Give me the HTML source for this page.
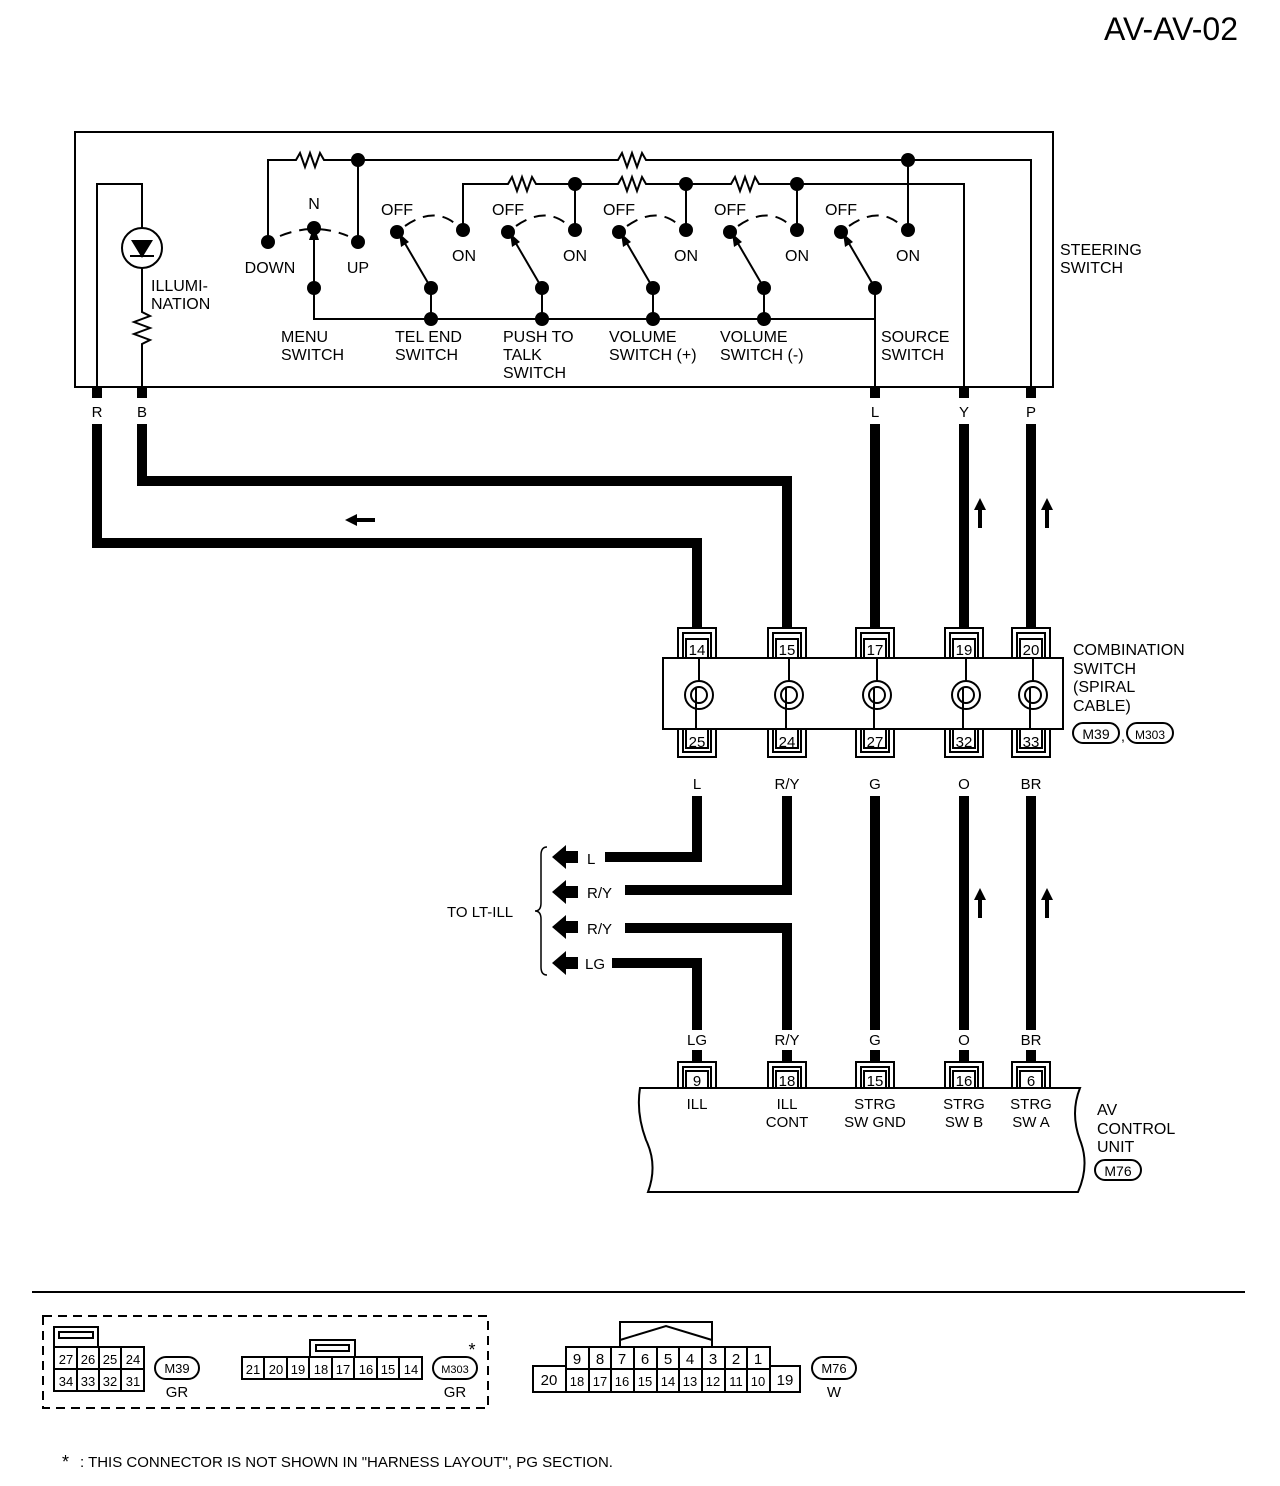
<!DOCTYPE html>
<html><head><style>html,body{margin:0;padding:0;background:#fff}svg{display:block}text{font-family:"Liberation Sans",sans-serif;fill:#000}</style></head><body>
<svg width="1280" height="1486" viewBox="0 0 1280 1486" xmlns="http://www.w3.org/2000/svg">
<defs>
<g id="dot"><circle r="7" fill="#000"/></g>
</defs>
<text x="1238" y="40" font-size="32" text-anchor="end">AV-AV-02</text>
<rect x="75" y="132" width="978" height="255" fill="none" stroke="#000" stroke-width="2"/>
<g fill="none" stroke="#000" stroke-width="2">
<path d="M97 387 V184 H142 V228 M142 268 V312 l8 4 l-16 6 l16 6 l-16 6 l16 6 l-8 4 V387"/>
<circle cx="142" cy="248" r="20"/>
<path d="M130 256 H154"/>
<path d="M268 240 V160 H296 l4 -7 l5 14 l5 -14 l5 14 l5 -14 l4 7 H618 l4 -7 l5 14 l5 -14 l5 14 l5 -14 l4 7 H1031 V387"/>
<path d="M358 160 V240 M908 160 V228"/>
<path d="M463 228 V184 H508 l4 -7 l5 14 l5 -14 l5 14 l5 -14 l4 7 H618 l4 -7 l5 14 l5 -14 l5 14 l5 -14 l4 7 H731 l4 -7 l5 14 l5 -14 l5 14 l5 -14 l4 7 H964 V387"/>
<path d="M575 184 V228 M686 184 V228 M797 184 V228"/>
<path d="M314 288 V319 H875 V387"/>
<path d="M431 288 V319 M542 288 V319 M653 288 V319 M764 288 V319 M875 288 V319"/>
<path d="M314 288 V236"/>
<path d="M280 236 Q314 222 348 236" stroke-dasharray="12 8"/>
<path d="M431 288 L403 240 M542 288 L514 240 M653 288 L625 240 M764 288 L736 240 M875 288 L847 240"/>
<path d="M405 226 Q435 205 458 226 M516 226 Q546 205 569 226 M627 226 Q657 205 680 226 M738 226 Q768 205 791 226 M849 226 Q879 205 902 226" stroke-dasharray="12 8"/>
</g>
<g fill="#000">
<path d="M142 258 l-11 -18 h22 z"/>
<path d="M314 226 l-5 14 h10 z"/>
<path d="M399 233 l2 14 l8 -5 z M510 233 l2 14 l8 -5 z M621 233 l2 14 l8 -5 z M732 233 l2 14 l8 -5 z M843 233 l2 14 l8 -5 z"/>
<use href="#dot" x="358" y="160"/><use href="#dot" x="908" y="160"/>
<use href="#dot" x="575" y="184"/><use href="#dot" x="686" y="184"/><use href="#dot" x="797" y="184"/>
<use href="#dot" x="268" y="242"/><use href="#dot" x="314" y="228"/><use href="#dot" x="358" y="242"/>
<use href="#dot" x="314" y="288"/>
<use href="#dot" x="397" y="232"/><use href="#dot" x="463" y="230"/><use href="#dot" x="431" y="288"/><use href="#dot" x="431" y="319"/>
<use href="#dot" x="508" y="232"/><use href="#dot" x="575" y="230"/><use href="#dot" x="542" y="288"/><use href="#dot" x="542" y="319"/>
<use href="#dot" x="619" y="232"/><use href="#dot" x="686" y="230"/><use href="#dot" x="653" y="288"/><use href="#dot" x="653" y="319"/>
<use href="#dot" x="730" y="232"/><use href="#dot" x="797" y="230"/><use href="#dot" x="764" y="288"/><use href="#dot" x="764" y="319"/>
<use href="#dot" x="841" y="232"/><use href="#dot" x="908" y="230"/><use href="#dot" x="875" y="288"/>
<rect x="92" y="387" width="10" height="11"/><rect x="137" y="387" width="10" height="11"/>
<rect x="870" y="387" width="10" height="11"/><rect x="959" y="387" width="10" height="11"/><rect x="1026" y="387" width="10" height="11"/>
</g>
<g font-size="16">
<text x="314" y="209" text-anchor="middle">N</text>
<text x="270" y="273" text-anchor="middle">DOWN</text><text x="358" y="273" text-anchor="middle">UP</text>
<text x="397" y="215" text-anchor="middle">OFF</text><text x="508" y="215" text-anchor="middle">OFF</text><text x="619" y="215" text-anchor="middle">OFF</text><text x="730" y="215" text-anchor="middle">OFF</text><text x="841" y="215" text-anchor="middle">OFF</text>
<text x="464" y="261" text-anchor="middle">ON</text><text x="575" y="261" text-anchor="middle">ON</text><text x="686" y="261" text-anchor="middle">ON</text><text x="797" y="261" text-anchor="middle">ON</text><text x="908" y="261" text-anchor="middle">ON</text>
<text x="151" y="291">ILLUMI-</text><text x="151" y="309">NATION</text>
<text x="281" y="342">MENU</text><text x="281" y="360">SWITCH</text>
<text x="395" y="342">TEL END</text><text x="395" y="360">SWITCH</text>
<text x="503" y="342">PUSH TO</text><text x="503" y="360">TALK</text><text x="503" y="378">SWITCH</text>
<text x="609" y="342">VOLUME</text><text x="609" y="360">SWITCH (+)</text>
<text x="720" y="342">VOLUME</text><text x="720" y="360">SWITCH (-)</text>
<text x="881" y="342">SOURCE</text><text x="881" y="360">SWITCH</text>
<text x="1060" y="255">STEERING</text><text x="1060" y="273">SWITCH</text>
</g>
<g font-size="15" text-anchor="middle">
<text x="97" y="417">R</text><text x="142" y="417">B</text><text x="875" y="417">L</text><text x="964" y="417">Y</text><text x="1031" y="417">P</text>
<text x="697" y="614">R</text><text x="787" y="614">B</text><text x="875" y="614">L</text><text x="964" y="614">Y</text><text x="1031" y="614">P</text>
<text x="697" y="789">L</text><text x="787" y="789">R/Y</text><text x="875" y="789">G</text><text x="964" y="789">O</text><text x="1031" y="789">BR</text>
<text x="697" y="1045">LG</text><text x="787" y="1045">R/Y</text><text x="875" y="1045">G</text><text x="964" y="1045">O</text><text x="1031" y="1045">BR</text>
</g>
<g fill="none" stroke="#000" stroke-width="10" stroke-linejoin="miter">
<path d="M97 424 V543 H697 V598"/>
<path d="M142 424 V481 H787 V598"/>
<path d="M875 424 V598 M964 424 V598 M1031 424 V598"/>
<path d="M697 796 V857 H605"/>
<path d="M787 796 V890 H625"/>
<path d="M625 928 H787 V1030"/>
<path d="M612 963 H697 V1030"/>
<path d="M875 796 V1030 M964 796 V1030 M1031 796 V1030"/>
</g>
<g fill="#000">
<path d="M345 520 l12 -6 v4 h18 v4 h-18 v4 z"/>
<path d="M980 498 l-6 12 h4 v18 h4 v-18 h4 z"/><path d="M1047 498 l-6 12 h4 v18 h4 v-18 h4 z"/>
<path d="M980 888 l-6 12 h4 v18 h4 v-18 h4 z"/><path d="M1047 888 l-6 12 h4 v18 h4 v-18 h4 z"/>
<path d="M552 857 l14 -12 v6 h12 v12 h-12 v6 z"/>
<path d="M552 892 l14 -12 v6 h12 v12 h-12 v6 z"/>
<path d="M552 927 l14 -12 v6 h12 v12 h-12 v6 z"/>
<path d="M552 963 l14 -12 v6 h12 v12 h-12 v6 z"/>
</g>
<g font-size="15">
<text x="587" y="864">L</text><text x="587" y="898">R/Y</text><text x="587" y="934">R/Y</text><text x="585" y="969">LG</text>
<text x="447" y="917">TO LT-ILL</text>
</g>
<path d="M547 847 q-6 0 -6 8 v48 q0 8 -6 8 q6 0 6 8 v48 q0 8 6 8" fill="none" stroke="#000" stroke-width="1.5"/>
<rect x="663" y="658" width="400" height="71" fill="#fff" stroke="#000" stroke-width="2"/>
<g fill="none" stroke="#000" stroke-width="2">
<path d="M678 658 V628 H716 V658 M683 658 V633 H711 V658 M768 658 V628 H806 V658 M773 658 V633 H801 V658 M856 658 V628 H894 V658 M861 658 V633 H889 V658 M945 658 V628 H983 V658 M950 658 V633 H978 V658 M1012 658 V628 H1050 V658 M1017 658 V633 H1045 V658"/>
<rect x="686" y="639" width="22" height="19"/><rect x="776" y="639" width="22" height="19"/><rect x="864" y="639" width="22" height="19"/><rect x="953" y="639" width="22" height="19"/><rect x="1020" y="639" width="22" height="19"/>
<path d="M678 729 V757 H716 V729 M683 729 V752 H711 V729 M768 729 V757 H806 V729 M773 729 V752 H801 V729 M856 729 V757 H894 V729 M861 729 V752 H889 V729 M945 729 V757 H983 V729 M950 729 V752 H978 V729 M1012 729 V757 H1050 V729 M1017 729 V752 H1045 V729"/>
<rect x="686" y="729" width="22" height="19"/><rect x="776" y="729" width="22" height="19"/><rect x="864" y="729" width="22" height="19"/><rect x="953" y="729" width="22" height="19"/><rect x="1020" y="729" width="22" height="19"/>
</g>
<g fill="#000"><rect x="692" y="598" width="10" height="30"/><rect x="782" y="598" width="10" height="30"/><rect x="870" y="598" width="10" height="30"/><rect x="959" y="598" width="10" height="30"/><rect x="1026" y="598" width="10" height="30"/></g>
<g fill="none" stroke="#000" stroke-width="2">
<g id="sp"><path d="M699 658 V681"/><circle cx="699" cy="695" r="14"/><circle cx="699" cy="695" r="8"/><path d="M696 688 V729"/></g>
<use href="#sp" x="90"/><use href="#sp" x="178"/><use href="#sp" x="267"/><use href="#sp" x="334"/>
</g>
<g font-size="15" text-anchor="middle">
<text x="697" y="655">14</text><text x="787" y="655">15</text><text x="875" y="655">17</text><text x="964" y="655">19</text><text x="1031" y="655">20</text>
<text x="697" y="747">25</text><text x="787" y="747">24</text><text x="875" y="747">27</text><text x="964" y="747">32</text><text x="1031" y="747">33</text>
</g>
<g font-size="16"><text x="1073" y="655">COMBINATION</text><text x="1073" y="674">SWITCH</text><text x="1073" y="692">(SPIRAL</text><text x="1073" y="711"> CABLE)</text></g>
<rect x="1073" y="723" width="46" height="20" rx="10" fill="none" stroke="#000" stroke-width="2"/><text x="1096" y="739" font-size="14" text-anchor="middle">M39</text>
<text x="1121" y="741" font-size="14">,</text>
<rect x="1127" y="723" width="46" height="20" rx="10" fill="none" stroke="#000" stroke-width="2"/><text x="1150" y="739" font-size="12" text-anchor="middle">M303</text>
<path d="M640 1088 H1080 q-10 25 0 52 q10 25 -2 52 H648 q10 -27 -2 -52 q-10 -27 -6 -52 z" fill="#fff" stroke="#000" stroke-width="2"/>
<g fill="none" stroke="#000" stroke-width="2">
<path d="M678 1088 V1062 H716 V1088 M683 1088 V1067 H711 V1088 M768 1088 V1062 H806 V1088 M773 1088 V1067 H801 V1088 M856 1088 V1062 H894 V1088 M861 1088 V1067 H889 V1088 M945 1088 V1062 H983 V1088 M950 1088 V1067 H978 V1088 M1012 1088 V1062 H1050 V1088 M1017 1088 V1067 H1045 V1088"/>
<rect x="686" y="1071" width="22" height="17"/><rect x="776" y="1071" width="22" height="17"/><rect x="864" y="1071" width="22" height="17"/><rect x="953" y="1071" width="22" height="17"/><rect x="1020" y="1071" width="22" height="17"/>
</g>
<g fill="#000"><rect x="692" y="1050" width="10" height="12"/><rect x="782" y="1050" width="10" height="12"/><rect x="870" y="1050" width="10" height="12"/><rect x="959" y="1050" width="10" height="12"/><rect x="1026" y="1050" width="10" height="12"/></g>
<g font-size="15" text-anchor="middle">
<text x="697" y="1086">9</text><text x="787" y="1086">18</text><text x="875" y="1086">15</text><text x="964" y="1086">16</text><text x="1031" y="1086">6</text>
<text x="697" y="1109">ILL</text><text x="787" y="1109">ILL</text><text x="787" y="1127">CONT</text>
<text x="875" y="1109">STRG</text><text x="875" y="1127">SW GND</text>
<text x="964" y="1109">STRG</text><text x="964" y="1127">SW B</text>
<text x="1031" y="1109">STRG</text><text x="1031" y="1127">SW A</text>
</g>
<g font-size="16"><text x="1097" y="1115">AV</text><text x="1097" y="1134">CONTROL</text><text x="1097" y="1152">UNIT</text></g>
<rect x="1095" y="1160" width="46" height="20" rx="10" fill="none" stroke="#000" stroke-width="2"/><text x="1118" y="1176" font-size="14" text-anchor="middle">M76</text>
<path d="M32 1292 H1245" stroke="#000" stroke-width="2"/>
<rect x="43" y="1316" width="445" height="92" fill="none" stroke="#000" stroke-width="2" stroke-dasharray="9 6"/>
<g fill="none" stroke="#000" stroke-width="2">
<rect x="54" y="1327" width="44" height="20"/><rect x="59" y="1332" width="34" height="6"/>
<rect x="54" y="1347" width="90" height="44"/>
<path d="M54 1369 H144 M77 1347 V1391 M99 1347 V1391 M121 1347 V1391"/>
<rect x="155" y="1357" width="44" height="22" rx="11"/>
<rect x="242" y="1357" width="180" height="22"/>
<path d="M264 1357 V1379 M287 1357 V1379 M309 1357 V1379 M332 1357 V1379 M354 1357 V1379 M377 1357 V1379 M399 1357 V1379"/>
<rect x="310" y="1340" width="45" height="17"/><rect x="316" y="1345" width="33" height="6"/>
<rect x="433" y="1357" width="44" height="22" rx="11"/>
<rect x="533" y="1366" width="33" height="26"/>
<rect x="566" y="1347" width="204" height="45"/>
<path d="M566 1369 H770 M589 1347 V1392 M611 1347 V1392 M634 1347 V1392 M657 1347 V1392 M679 1347 V1392 M702 1347 V1392 M725 1347 V1392 M747 1347 V1392"/>
<rect x="770" y="1366" width="30" height="26"/>
<path d="M620 1347 V1322 H712 V1347 M620 1340 L666 1326 L712 1340"/>
<rect x="812" y="1357" width="44" height="22" rx="11"/>
</g>
<g font-size="13" text-anchor="middle">
<text x="66" y="1364">27</text><text x="88" y="1364">26</text><text x="110" y="1364">25</text><text x="133" y="1364">24</text>
<text x="66" y="1386">34</text><text x="88" y="1386">33</text><text x="110" y="1386">32</text><text x="133" y="1386">31</text>
<text x="177" y="1373">M39</text><text x="177" y="1397" font-size="15">GR</text>
<text x="253" y="1374">21</text><text x="276" y="1374">20</text><text x="298" y="1374">19</text><text x="321" y="1374">18</text><text x="343" y="1374">17</text><text x="366" y="1374">16</text><text x="388" y="1374">15</text><text x="411" y="1374">14</text>
<text x="455" y="1373" font-size="11">M303</text><text x="455" y="1397" font-size="15">GR</text><text x="472" y="1356" font-size="18">*</text>
<text x="549" y="1385" font-size="15">20</text>
<text x="577" y="1364" font-size="15">9</text><text x="600" y="1364" font-size="15">8</text><text x="622" y="1364" font-size="15">7</text><text x="645" y="1364" font-size="15">6</text><text x="668" y="1364" font-size="15">5</text><text x="690" y="1364" font-size="15">4</text><text x="713" y="1364" font-size="15">3</text><text x="736" y="1364" font-size="15">2</text><text x="758" y="1364" font-size="15">1</text>
<text x="577" y="1386">18</text><text x="600" y="1386">17</text><text x="622" y="1386">16</text><text x="645" y="1386">15</text><text x="668" y="1386">14</text><text x="690" y="1386">13</text><text x="713" y="1386">12</text><text x="736" y="1386">11</text><text x="758" y="1386">10</text>
<text x="785" y="1385" font-size="15">19</text>
<text x="834" y="1373">M76</text><text x="834" y="1397" font-size="15">W</text>
</g>
<text x="62" y="1468" font-size="18">*</text>
<text x="80" y="1467" font-size="15">: THIS CONNECTOR IS NOT SHOWN IN "HARNESS LAYOUT", PG SECTION.</text>
</svg>
</body></html>
